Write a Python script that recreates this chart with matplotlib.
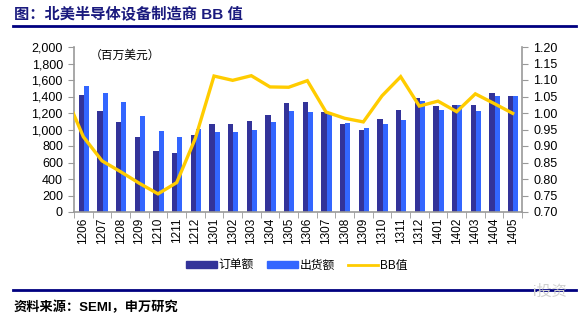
import numpy as np
import matplotlib.pyplot as plt
from matplotlib.lines import Line2D
from matplotlib.patches import Patch

plt.rcParams['font.family'] = ['Liberation Sans', 'Noto Sans CJK SC']

# month labels (yymm)
months = ["1206", "1207", "1208", "1209", "1210", "1211", "1212",
          "1301", "1302", "1303", "1304", "1305", "1306", "1307",
          "1308", "1309", "1310", "1311", "1312",
          "1401", "1402", "1403", "1404", "1405"]

# orders and shipments, million USD
orders = [1420, 1230, 1090, 910, 740, 720, 930,
          1070, 1070, 1100, 1175, 1320, 1333, 1207,
          1061, 996, 1122, 1236, 1378,
          1280, 1293, 1293, 1443, 1406]
shipments = [1530, 1440, 1330, 1160, 980, 910, 1010,
             970, 970, 990, 1085, 1224, 1215, 1187,
             1081, 1020, 1069, 1118, 1346,
             1232, 1293, 1228, 1402, 1406]

# book-to-bill; first value is the previous month (1205), cut off at the left edge
bb_prev = 1.06
bb = [0.928, 0.855, 0.822, 0.787, 0.755, 0.789, 0.923,
      1.112, 1.099, 1.113, 1.079, 1.078, 1.098, 1.003,
      0.984, 0.973, 1.052, 1.110, 1.021,
      1.036, 1.004, 1.058, 1.029, 0.999]

dark = "#333399"
light = "#3366FF"
gold = "#FFCC00"
navy = "#1a1a7e"

fig = plt.figure(figsize=(5.84, 3.21), dpi=100)
ax = fig.add_axes([74/584, 1 - 212/321, 448/584, 165/321])

x = np.arange(len(months))
w = 0.28
ax.bar(x - w/2 + 0.03, orders, width=w, color=dark, zorder=2)
ax.bar(x + w/2 + 0.03, shipments, width=w, color=light, zorder=2)

ax.set_xlim(-0.5, len(months) - 0.5)
ax.set_ylim(0, 2000)
ax.set_yticks(range(0, 2001, 200))
ax.set_yticklabels([f"{v:,}" for v in range(0, 2001, 200)], fontsize=9)
ax.set_xticks(x)
ax.set_xticklabels(months, rotation=90, fontsize=8.5)
ax.set_xticks(np.arange(-0.5, len(months), 1), minor=True)
ax.tick_params(axis='x', which='major', length=0, pad=4)
ax.tick_params(axis='x', which='minor', length=4, color="#999999")
ax.tick_params(axis='y', length=4, color="#999999", pad=4)
for s in ["top", "right"]:
    ax.spines[s].set_visible(False)
for s in ["left", "bottom"]:
    ax.spines[s].set_color("#999999")
    ax.spines[s].set_linewidth(1.2)

ax2 = ax.twinx()
ax2.plot(np.concatenate([[-1], x]), [bb_prev] + bb, color=gold, lw=2.4,
         solid_joinstyle='miter', zorder=3)
ax2.set_xlim(-0.5, len(months) - 0.5)
ax2.set_ylim(0.70, 1.20)
ax2.set_yticks(np.arange(0.70, 1.201, 0.05))
ax2.set_yticklabels([f"{v:.2f}" for v in np.arange(0.70, 1.201, 0.05)], fontsize=9)
ax2.tick_params(axis='y', length=4, color="#999999", pad=4)
for s in ["top", "left", "bottom"]:
    ax2.spines[s].set_visible(False)
ax2.spines["right"].set_color("#999999")
ax2.spines["right"].set_linewidth(1.2)

ax.text(0.035, 0.985, "（百万美元）", transform=ax.transAxes, fontsize=8.5,
        va="top", ha="left")

handles = [Patch(color=dark, label="订单额"),
           Patch(color=light, label="出货额"),
           Line2D([0], [0], color=gold, lw=2, label="BB值")]
fig.legend(handles=handles, loc="center", bbox_to_anchor=(297/584, 1 - 266/321),
           ncol=3, frameon=False, fontsize=8.5, handlelength=2.6, handleheight=0.55,
           columnspacing=1.1, handletextpad=0.15)

fig.text(14/584, 1 - 15/321, "图：北美半导体设备制造商 BB 值", fontsize=11,
         fontweight="bold", color=navy, va="center", ha="left")
fig.add_artist(Line2D([13/584, 576/584], [1 - 26/321, 1 - 26/321],
                      color="#000080", lw=2))
fig.add_artist(Line2D([13/584, 576/584], [1 - 290/321, 1 - 290/321],
                      color="#000080", lw=2))
fig.text(14/584, 1 - 307/321, "资料来源：SEMI，申万研究", fontsize=9.5,
         fontweight="bold", va="center", ha="left")
fig.text(550/584, 1 - 292/321, "i投资", fontsize=11, color="#d0d0d0",
         va="center", ha="center")

fig.savefig("out.png", dpi=100)
